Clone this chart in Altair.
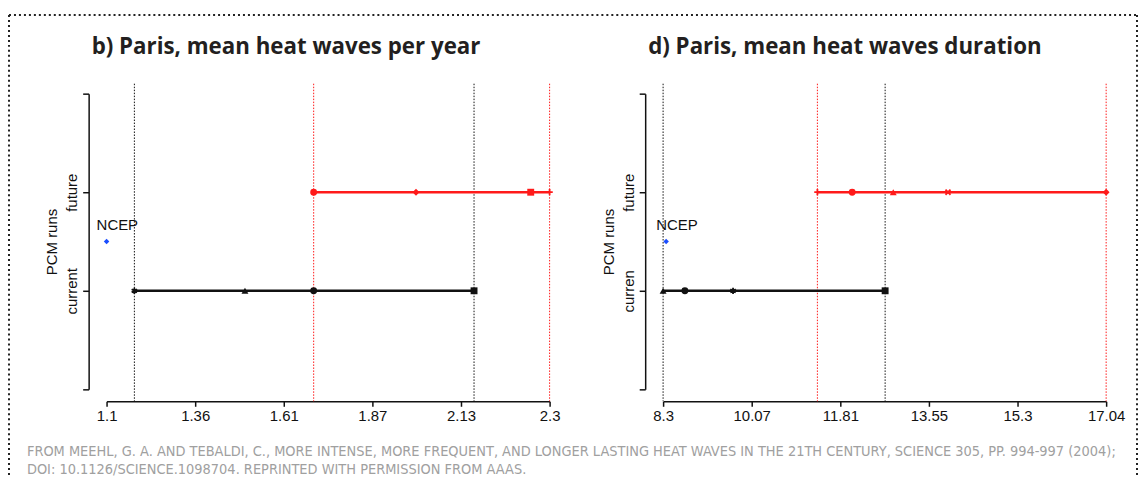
import altair as alt
import pandas as pd
import json

# ---------------- data ----------------
title_left = "b) Paris, mean heat waves per year"
title_right = "d) Paris, mean heat waves duration"
footnote_lines = [
    "FROM MEEHL, G. A. AND TEBALDI, C., MORE INTENSE, MORE FREQUENT, AND LONGER LASTING HEAT WAVES IN THE 21TH CENTURY, SCIENCE 305, PP. 994-997 (2004);",
    "DOI: 10.1126/SCIENCE.1098704. REPRINTED WITH PERMISSION FROM AAAS.",
]
y_title = "PCM runs"
y_ticks = [0, 1, 2, 3]
y_labels_left = ["", "current", "future", ""]
y_labels_right = ["", "curren", "future", ""]
ncep_label = "NCEP"
ncep_y = 1.5
current_y = 1
future_y = 2

left_domain = [1.1, 2.39]
left_x_ticks = [1.1, 1.358, 1.616, 1.874, 2.132, 2.39]
left_x_labels = ["1.1", "1.36", "1.61", "1.87", "2.13", "2.3"]
left_current_x = [1.181, 1.503, 1.703, 2.170]
left_current_shape = ["asterisk", "triangle", "circle", "square"]
left_future_x = [1.703, 2.001, 2.335, 2.39]
left_future_shape = ["circle", "diamond", "square", "plus"]
left_black_vlines = [1.181, 2.170]
left_red_vlines = [1.703, 2.39]
left_ncep_x = 1.1

right_domain = [8.3, 17.04]
right_x_ticks = [8.3, 10.048, 11.796, 13.544, 15.292, 17.04]
right_x_labels = ["8.3", "10.07", "11.81", "13.55", "15.3", "17.04"]
right_current_x = [8.3, 8.73, 9.68, 12.68]
right_current_shape = ["triangle", "circle", "asterisk", "square"]
right_future_x = [11.344, 12.03, 12.84, 13.92, 17.04]
right_future_shape = ["plus", "circle", "triangle", "x", "diamond"]
right_black_vlines = [8.3, 12.68]
right_red_vlines = [11.344, 17.04]
right_ncep_x = 8.36

shape_names = ["asterisk", "triangle", "circle", "square", "diamond", "plus", "x"]
shape_paths = [
    "M0,-1L0,1M-0.87,-0.5L0.87,0.5M-0.87,0.5L0.87,-0.5",
    "triangle-up",
    "circle",
    "square",
    "diamond",
    "M-1,0L1,0M0,-1L0,1",
    "M-0.8,-0.8L0.8,0.8M-0.8,0.8L0.8,-0.8",
]
line_shapes = ["asterisk", "plus", "x"]

RED = "#ff1a1a"
BLACK = "#111111"
BLUE = "#1a4dff"
AXFONT = "Liberation Sans"
W, H = 445, 297


def label_expr(ticks, labels):
    mapping = {str(t): l for t, l in zip(ticks, labels)}
    return json.dumps(mapping) + "[datum.value + '']"


def panel(domain, xt, xl, yl, cur_x, cur_s, fut_x, fut_s, bv, rv, ncep_x, title, decor):
    xs = alt.Scale(domain=domain, nice=False, zero=False)
    ys = alt.Scale(domain=[y_ticks[0], y_ticks[-1]], nice=False, zero=False)
    x_axis = alt.Axis(values=xt, labelExpr=label_expr(xt, xl), offset=12, grid=False,
                      tickSize=5, tickWidth=1.5, domainWidth=1.5, domainColor=BLACK,
                      tickColor=BLACK, labelColor=BLACK, labelFont=AXFONT, labelFontSize=15,
                      labelPadding=2, labelFlush=False, labelOverlap=False, title=None)
    y_axis = alt.Axis(values=y_ticks, labelExpr=label_expr(y_ticks, yl), offset=18, grid=False,
                      tickSize=6, tickWidth=1.5, domainWidth=1.5, domainColor=BLACK,
                      tickColor=BLACK, labelColor=BLACK, labelFont=AXFONT, labelFontSize=15,
                      labelAngle=270, labelAlign="center", labelBaseline="bottom",
                      labelPadding=3, title=y_title, titleFont=AXFONT, titleFontSize=15,
                      titleFontWeight="normal", titleColor=BLACK, titlePadding=5)

    cscale = alt.Scale(domain=["black", "red"], range=[BLACK, RED])
    sscale = alt.Scale(domain=shape_names, range=shape_paths)

    vdf = pd.DataFrame({"x": bv + rv, "c": ["black"] * len(bv) + ["red"] * len(rv)})
    vlines = alt.Chart(vdf).mark_rule(strokeDash=[1.5, 1.5], strokeWidth=1).encode(
        x=alt.X("x:Q", scale=xs, axis=x_axis),
        y=alt.value(-10), y2=alt.value(H + 12),
        color=alt.Color("c:N", scale=cscale, legend=None),
    )

    sdf = pd.DataFrame({
        "x": [min(cur_x), min(fut_x)], "x2": [max(cur_x), max(fut_x)],
        "y": [current_y, future_y], "c": ["black", "red"],
    })
    segs = alt.Chart(sdf).mark_rule(strokeWidth=2.6).encode(
        x=alt.X("x:Q", scale=xs), x2="x2:Q",
        y=alt.Y("y:Q", scale=ys, axis=y_axis),
        color=alt.Color("c:N", scale=cscale, legend=None),
    )

    pdf = pd.DataFrame({
        "x": cur_x + fut_x,
        "y": [current_y] * len(cur_x) + [future_y] * len(fut_x),
        "s": cur_s + fut_s,
        "c": ["black"] * len(cur_x) + ["red"] * len(fut_x),
    })
    pdf_line = pdf[pdf["s"].isin(line_shapes)]
    pdf_fill = pdf[~pdf["s"].isin(line_shapes)]
    pts_line = alt.Chart(pdf_line).mark_point(filled=False, strokeWidth=1.8, size=40, opacity=1).encode(
        x=alt.X("x:Q", scale=xs), y=alt.Y("y:Q", scale=ys),
        shape=alt.Shape("s:N", scale=sscale, legend=None),
        color=alt.Color("c:N", scale=cscale, legend=None),
    )
    pts_fill = alt.Chart(pdf_fill).mark_point(filled=True, size=48, opacity=1).encode(
        x=alt.X("x:Q", scale=xs), y=alt.Y("y:Q", scale=ys),
        shape=alt.Shape("s:N", scale=sscale, legend=None),
        color=alt.Color("c:N", scale=cscale, legend=None),
    )

    ndf = pd.DataFrame({"x": [ncep_x], "y": [ncep_y], "t": [ncep_label]})
    npt = alt.Chart(ndf).mark_point(filled=True, shape="diamond", size=30, color=BLUE, opacity=1).encode(
        x=alt.X("x:Q", scale=xs), y=alt.Y("y:Q", scale=ys))
    ntx = alt.Chart(ndf).mark_text(align="left", baseline="middle", dx=-10, dy=-17,
                                   font=AXFONT, fontSize=15, color=BLACK).encode(
        x=alt.X("x:Q", scale=xs), y=alt.Y("y:Q", scale=ys), text="t:N")

    tdf = pd.DataFrame({"t": [title]})
    ttl = alt.Chart(tdf).mark_text(align="left", baseline="alphabetic", font="Open Sans",
                                   fontWeight="bold", fontSize=22.4, color="#231f20").encode(
        x=alt.value(-15), y=alt.value(-40), text="t:N")

    layers = [vlines, segs, pts_line, pts_fill, npt, ntx, ttl]

    if decor:
        fdf1 = pd.DataFrame({"t": [footnote_lines[0]]})
        fdf2 = pd.DataFrame({"t": [footnote_lines[1]]})
        fstyle = dict(align="left", baseline="middle",
                      font="Liberation Sans Narrow, DejaVu Sans Condensed, sans-serif",
                      fontSize=14.5, color="#a0a0a0")
        f1 = alt.Chart(fdf1).mark_text(**fstyle).encode(x=alt.value(-80), y=alt.value(360), text="t:N")
        f2 = alt.Chart(fdf2).mark_text(**fstyle).encode(x=alt.value(-80), y=alt.value(378.5), text="t:N")
        bstyle = dict(strokeDash=[2, 3], strokeWidth=2, color="#222222")
        btop = alt.Chart(tdf).mark_rule(**bstyle).encode(
            x=alt.value(-98), x2=alt.value(1035), y=alt.value(-79))
        bleft = alt.Chart(tdf).mark_rule(**bstyle).encode(
            x=alt.value(-98), y=alt.value(-79), y2=alt.value(384))
        bright = alt.Chart(tdf).mark_rule(**bstyle).encode(
            x=alt.value(1035), y=alt.value(-79), y2=alt.value(384))
        layers += [f1, f2, btop, bleft, bright]

    return alt.layer(*layers).properties(width=W, height=H)


left = panel(left_domain, left_x_ticks, left_x_labels, y_labels_left, left_current_x,
             left_current_shape, left_future_x, left_future_shape, left_black_vlines,
             left_red_vlines, left_ncep_x, title_left, True)
right = panel(right_domain, right_x_ticks, right_x_labels, y_labels_right, right_current_x,
              right_current_shape, right_future_x, right_future_shape, right_black_vlines,
              right_red_vlines, right_ncep_x, title_right, False)

chart = alt.hconcat(left, right, spacing=114, bounds="flush").properties(
    padding={"left": 0, "top": 5, "right": 0, "bottom": 0},
    background="white",
).configure_view(strokeOpacity=0, strokeWidth=0)

chart.save("out.html", embed_options={"renderer": "svg", "actions": False})
